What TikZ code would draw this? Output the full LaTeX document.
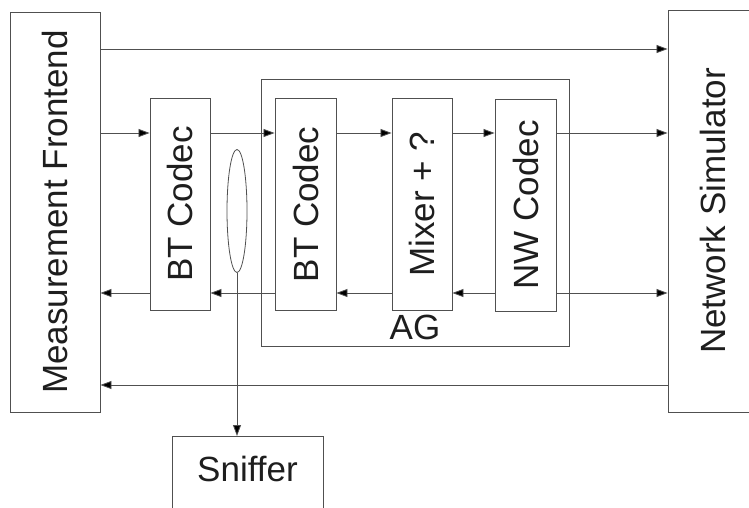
\documentclass[tikz,border=0pt]{standalone}
\usepackage{fontspec}
\setmainfont{Liberation Sans}
\usetikzlibrary{arrows.meta, positioning, shapes.geometric}
\definecolor{linegray}{RGB}{80,80,80}
\definecolor{textdark}{RGB}{30,30,30}
\newcommand{\vtext}[1]{\rotatebox{90}{#1}}

\begin{document}
\begin{tikzpicture}[x=1pt, y=-1pt,
    blk/.style={rectangle, draw=linegray, line width=0.9pt, inner sep=0pt,
                text=textdark, font=\fontsize{35}{40}\selectfont},
    codec/.style={blk, minimum width=61pt, minimum height=212pt},
    arr/.style={-{Triangle[length=11pt, width=8pt, fill=black]}, draw=linegray, line width=0.8pt}
  ]
  \useasboundingbox (0,0) rectangle (749,508);
  \clip (0,0) rectangle (749,508);

  % outer blocks
  \node[blk, minimum width=90pt, minimum height=400pt] (front) at (55,212) {\vtext{Measurement Frontend}};
  \node[blk, minimum width=90pt, minimum height=402pt] (netsim) at (713,211) {\vtext{Network Simulator}};
  \node[blk, anchor=north, minimum width=151pt, text height=25pt, text depth=40pt, inner ysep=20pt] (sniffer) at (247.5,436) {Sniffer};

  % AG group
  \node[blk, minimum width=308pt, minimum height=267pt] (ag) at (415,212.5) {};
  \node[anchor=south, inner sep=6pt, text=textdark, font=\fontsize{35}{40}\selectfont] (aglbl) at (ag.south) {AG};

  % codecs
  \node[codec, minimum width=60pt] (btone) at (180,204) {\vtext{BT Codec}};
  \node[codec] (bttwo) at (305.5,204.5) {\vtext{BT Codec}};
  \node[codec, minimum width=60pt] (mixer) at (422,204) {\vtext{Mixer + ?}};
  \node[codec] (nwcodec) at (525.5,205) {\vtext{NW Codec}};

  % tap on the BT link
  \node[ellipse, draw=linegray, line width=0.8pt, minimum width=20pt, minimum height=123pt, inner sep=0pt] (tap) at (237,211) {};

  % rows
  \coordinate (rowtop) at (0,49);
  \coordinate (rowfwd) at (0,133);
  \coordinate (rowback) at (0,293);
  \coordinate (rowret) at (0,385);

  \draw[arr] (front.east |- rowtop) -- (netsim.west |- rowtop);

  \draw[arr] (front.east |- rowfwd) -- (btone.west |- rowfwd);
  \draw[arr] (btone.east |- rowfwd) -- (bttwo.west |- rowfwd);
  \draw[arr] (bttwo.east |- rowfwd) -- (mixer.west |- rowfwd);
  \draw[arr] (mixer.east |- rowfwd) -- (nwcodec.west |- rowfwd);
  \draw[arr] (nwcodec.east |- rowfwd) -- (netsim.west |- rowfwd);

  \draw[arr] (btone.west |- rowback) -- (front.east |- rowback);
  \draw[arr] (bttwo.west |- rowback) -- (btone.east |- rowback);
  \draw[arr] (mixer.west |- rowback) -- (bttwo.east |- rowback);
  \draw[arr] (nwcodec.west |- rowback) -- (mixer.east |- rowback);
  \draw[arr] (nwcodec.east |- rowback) -- (netsim.west |- rowback);

  \draw[arr] (netsim.west |- rowret) -- (front.east |- rowret);

  \draw[arr] (tap.south) -- (sniffer.north -| tap.south);
\end{tikzpicture}
\end{document}
